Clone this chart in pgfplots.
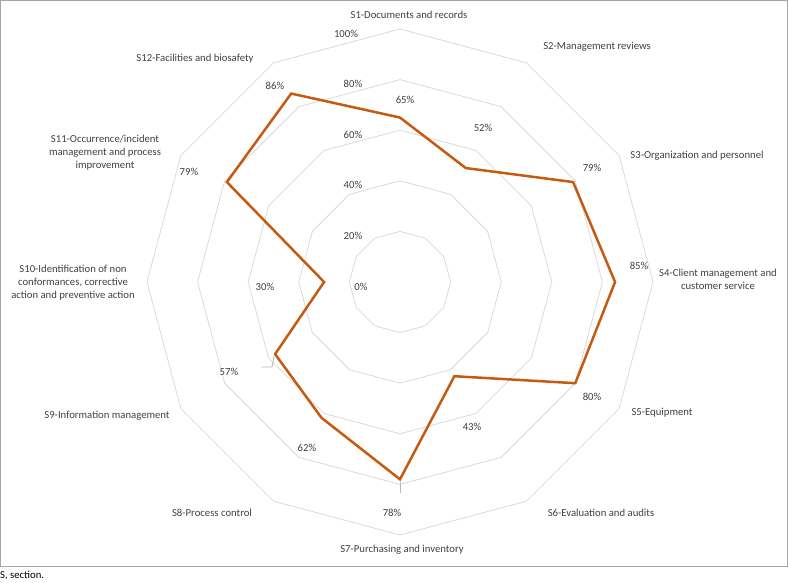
\documentclass[border=0pt]{standalone}
\usepackage{pgfplots}
\pgfplotsset{compat=1.18}
\usepackage{fontspec}
\setmainfont{Carlito}
\definecolor{gridc}{HTML}{D9D9D9}
\definecolor{linec}{HTML}{C55A11}
\definecolor{txt}{HTML}{404040}
\definecolor{framec}{HTML}{A6A6A6}
\newcommand\lf{\fontsize{10.7}{12.9}\selectfont}
\begin{document}
\begin{tikzpicture}
\begin{axis}[
  x=2.53pt, y=2.53pt,
  xmin=-158.1, xmax=153.36, ymin=-118.6, ymax=111.46,
  hide axis, clip=false,
]
% bounding coordinates
\coordinate (bl) at (rel axis cs:0,0);
\coordinate (tr) at (rel axis cs:1,1);
% frame
\draw[framec, line width=0.8pt] (axis cs:-157.9,111.3) rectangle (axis cs:153.16,-112.25);
% polygon grid
\foreach \r in {20,40,60,80,100}{
  \edef\tmp{\noexpand\addplot[gridc, line width=0.8pt, data cs=polar] coordinates {
    (90,\r) (60,\r) (30,\r) (0,\r) (-30,\r) (-60,\r) (-90,\r) (-120,\r) (-150,\r) (180,\r) (150,\r) (120,\r) (90,\r)};}
  \tmp
}
% leader lines
\draw[gridc!85!black, line width=0.8pt] (axis cs:-54.55,-33.60) -- (axis cs:-50.59,-33.60) -- (axis cs:-49.80,-29.25);
\draw[gridc!85!black, line width=0.8pt] (axis cs:0,-79.05) -- (axis cs:0,-83.40);
% data
\addplot[linec, line width=2.5pt, data cs=polar] coordinates {
  (90,65) (60,52) (30,79) (0,85) (-30,80) (-60,43) (-90,78) (-120,62) (-150,57) (180,30) (150,79) (120,86) (90,65)};
% tick labels
\node[font=\lf, text=txt] at (axis cs:-21.34,98.02) {100\%};
\node[font=\lf, text=txt] at (axis cs:-18.58,78.26) {80\%};
\node[font=\lf, text=txt] at (axis cs:-18.58,58.10) {60\%};
\node[font=\lf, text=txt] at (axis cs:-18.58,38.34) {40\%};
\node[font=\lf, text=txt] at (axis cs:-18.58,18.18) {20\%};
\node[font=\lf, text=txt] at (axis cs:-15.42,-1.98) {0\%};
% category labels
\node[font=\lf, text=txt, align=center] at (axis cs:3.56,105.53) {S1-Documents and records};
\node[font=\lf, text=txt, align=center] at (axis cs:77.87,92.89) {S2-Management reviews};
\node[font=\lf, text=txt, align=center] at (axis cs:117.39,49.80) {S3-Organization and personnel};
\node[font=\lf, text=txt, align=center] at (axis cs:125.69,1.19) {S4-Client management and\\customer service};
\node[font=\lf, text=txt, align=center] at (axis cs:103.56,-51.78) {S5-Equipment};
\node[font=\lf, text=txt, align=center] at (axis cs:79.45,-91.30) {S6-Evaluation and audits};
\node[font=\lf, text=txt, align=center] at (axis cs:0.79,-105.93) {S7-Purchasing and inventory};
\node[font=\lf, text=txt, align=center] at (axis cs:-74.31,-91.30) {S8-Process control};
\node[font=\lf, text=txt, align=center] at (axis cs:-115.81,-52.96) {S9-Information management};
\node[font=\lf, text=txt, align=center] at (axis cs:-129.25,-0.40) {S10-Identification of non\\conformances, corrective\\action and preventive action};
\node[font=\lf, text=txt, align=center] at (axis cs:-116.60,50.99) {S11-Occurrence/incident\\management and process\\improvement};
\node[font=\lf, text=txt, align=center] at (axis cs:-81.03,88.14) {S12-Facilities and biosafety};
% data labels
\node[font=\lf, text=txt] at (axis cs:1.98,71.94) {65\%};
\node[font=\lf, text=txt] at (axis cs:32.81,60.87) {52\%};
\node[font=\lf, text=txt] at (axis cs:75.89,45.06) {79\%};
\node[font=\lf, text=txt] at (axis cs:94.47,6.32) {85\%};
\node[font=\lf, text=txt] at (axis cs:75.89,-45.45) {80\%};
\node[font=\lf, text=txt] at (axis cs:28.46,-57.31) {43\%};
\node[font=\lf, text=txt] at (axis cs:-3.16,-91.30) {78\%};
\node[font=\lf, text=txt] at (axis cs:-36.76,-65.61) {62\%};
\node[font=\lf, text=txt] at (axis cs:-67.59,-35.57) {57\%};
\node[font=\lf, text=txt] at (axis cs:-53.36,-1.98) {30\%};
\node[font=\lf, text=txt] at (axis cs:-83.40,43.48) {79\%};
\node[font=\lf, text=txt] at (axis cs:-49.41,77.47) {86\%};
% footnote
\node[font=\lf, anchor=west, inner sep=0pt, text=black] at (axis cs:-158.1,-115.9) {S, section.};
\end{axis}
\pgfresetboundingbox
\path (bl) rectangle (tr);
\end{tikzpicture}
\end{document}
